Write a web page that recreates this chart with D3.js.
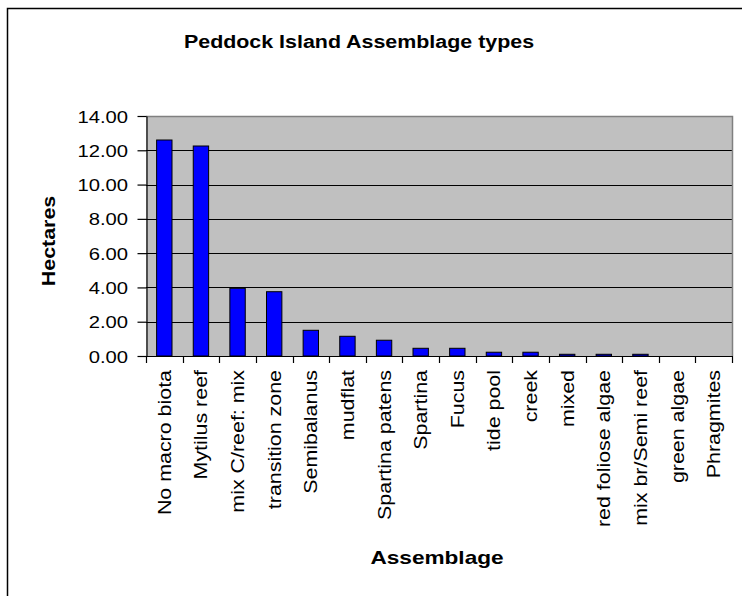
<!DOCTYPE html>
<html>
<head>
<meta charset="utf-8">
<script src="https://cdn.jsdelivr.net/npm/d3@7"></script>
<style>
  html, body { margin: 0; padding: 0; background: #fff; }
  svg { display: block; }
  text { font-family: "Liberation Sans", Arial, sans-serif; fill: #000; }
</style>
</head>
<body>
<svg id="chart" width="742" height="596"></svg>
<script>
const categories = ["No macro biota", "Mytilus reef", "mix C/reef: mix", "transition zone", "Semibalanus",
  "mudflat", "Spartina patens", "Spartina", "Fucus", "tide pool", "creek", "mixed",
  "red foliose algae", "mix br/Semi reef", "green algae", "Phragmites"];
const hectares = [12.6, 12.25, 3.95, 3.75, 1.5, 1.15, 0.92, 0.45, 0.45, 0.22, 0.22, 0.1, 0.1, 0.1, 0, 0];
const yTicks = [0, 2, 4, 6, 8, 10, 12, 14];
const chartTitle = "Peddock Island Assemblage types";
const yTitle = "Hectares";
const xTitle = "Assemblage";

const svg = d3.select("#chart");
const SX = 1.19; // horizontal glyph stretch of the original rendering

// outer chart frame (extends beyond the picture on right/bottom)
svg.append("rect").attr("x", 7.5).attr("y", 8.5).attr("width", 900).attr("height", 900)
  .attr("fill", "none").attr("stroke", "#000").attr("stroke-width", 1.5);

const plot = { left: 146, right: 732, top: 116, bottom: 356 };

const x = d3.scaleBand().domain(categories).range([plot.left, plot.right]).padding(0);
const y = d3.scaleLinear().domain([0, 14]).range([plot.bottom, plot.top]);

// plot background
svg.append("rect").attr("x", plot.left).attr("y", plot.top)
  .attr("width", plot.right - plot.left).attr("height", plot.bottom - plot.top)
  .attr("fill", "#C0C0C0");

// gridlines
svg.append("g").selectAll("line").data(yTicks.filter(d => d > 0 && d < 14)).join("line")
  .attr("x1", plot.left).attr("x2", plot.right)
  .attr("y1", d => Math.round(y(d)) + 0.5).attr("y2", d => Math.round(y(d)) + 0.5)
  .attr("stroke", "#000").attr("stroke-width", 1);

// top & right border (grey)
svg.append("path")
  .attr("d", `M${plot.left},${plot.top + 0.5}H${plot.right + 0.5}V${plot.bottom}`)
  .attr("fill", "none").attr("stroke", "#808080").attr("stroke-width", 1.5);

// bars
const bw = x.bandwidth() * 0.42;
svg.append("g").selectAll("rect").data(categories.map((c, i) => ({ c, v: hectares[i] })).filter(d => d.v > 0))
  .join("rect")
  .attr("x", d => x(d.c) + (x.bandwidth() - bw) / 2)
  .attr("y", d => y(d.v))
  .attr("width", bw)
  .attr("height", d => y(0) - y(d.v))
  .attr("fill", "#0000FF").attr("stroke", "#000").attr("stroke-width", 1);

// y axis
const yAxis = svg.append("g").attr("transform", `translate(${plot.left + 0.5},0)`)
  .call(d3.axisLeft(y).tickValues(yTicks).tickFormat(d3.format(".2f")).tickSize(9).tickSizeOuter(0));
yAxis.select(".domain").attr("stroke", "#000").attr("stroke-width", 1.2);
yAxis.selectAll(".tick line").attr("stroke", "#000").attr("stroke-width", 1.2);
yAxis.selectAll(".tick text")
  .attr("x", null).attr("dy", "0.36em")
  .attr("transform", `translate(-18.5,0) scale(${SX},1)`)
  .style("font-size", "17px").attr("fill", "#000");

// x axis baseline and boundary ticks
const xg = svg.append("g");
xg.append("line").attr("x1", plot.left).attr("x2", plot.right + 1)
  .attr("y1", plot.bottom + 0.5).attr("y2", plot.bottom + 0.5)
  .attr("stroke", "#000").attr("stroke-width", 1.2);
const bounds = categories.map(c => x(c)).concat([x.range()[1]]);
xg.selectAll("line.tk").data(bounds).join("line").attr("class", "tk")
  .attr("x1", d => Math.round(d) + 0.5).attr("x2", d => Math.round(d) + 0.5)
  .attr("y1", plot.bottom).attr("y2", plot.bottom + 7)
  .attr("stroke", "#000").attr("stroke-width", 1.2);

// category labels (rotated)
xg.selectAll("text").data(categories).join("text")
  .attr("transform", d => `translate(${x(d) + x.bandwidth() / 2},370) rotate(-90) scale(${SX},1)`)
  .attr("text-anchor", "end").attr("dy", "0.36em")
  .style("font-size", "18px")
  .text(d => d);

// titles
svg.append("text").attr("transform", `translate(359,48) scale(${SX},1)`)
  .attr("text-anchor", "middle").style("font-size", "18px").style("font-weight", "bold")
  .text(chartTitle);

svg.append("text").attr("transform", `translate(55,241) rotate(-90) scale(${SX},1)`)
  .attr("text-anchor", "middle").style("font-size", "18px").style("font-weight", "bold")
  .text(yTitle);

svg.append("text").attr("transform", `translate(437,564) scale(${SX},1)`)
  .attr("text-anchor", "middle").style("font-size", "19px").style("font-weight", "bold")
  .text(xTitle);
</script>
</body>
</html>
